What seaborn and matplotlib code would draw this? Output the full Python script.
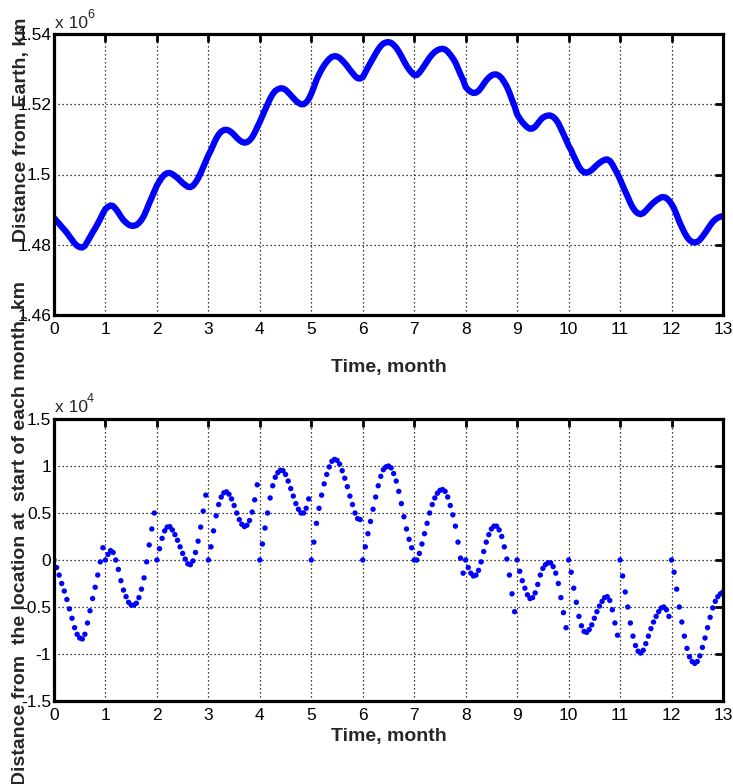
import matplotlib
matplotlib.use('Agg')
import matplotlib.pyplot as plt
from matplotlib import font_manager
import seaborn as sns
import numpy as np
import pandas as pd

# distance from Earth at the start of each month, thousand km
month_start = [1487.6, 1490.2, 1496.9, 1505.5, 1515.0, 1523.0, 1527.7,
               1528.3, 1524.9, 1517.1, 1508.2, 1498.6, 1491.6]
step = 0.05  # sampling, month

# offset from the location at start of month n, x 10^4 km (read every 0.05 month)
m00 = [0.00, -0.08, -0.16, -0.25, -0.33, -0.42, -0.52, -0.62, -0.72, -0.79,
       -0.83, -0.84, -0.79, -0.67, -0.54, -0.41, -0.29, -0.16, -0.02, 0.13]
m01 = [0.00, 0.06, 0.10, 0.08, 0.00, -0.10, -0.22, -0.32, -0.39, -0.45,
       -0.48, -0.48, -0.46, -0.40, -0.31, -0.19, -0.02, 0.16, 0.33, 0.50]
m02 = [0.00, 0.12, 0.23, 0.31, 0.35, 0.355, 0.32, 0.27, 0.21, 0.14,
       0.07, 0.01, -0.04, -0.05, -0.01, 0.08, 0.20, 0.35, 0.52, 0.69]
m03 = [0.00, 0.14, 0.31, 0.47, 0.59, 0.67, 0.715, 0.725, 0.70, 0.65,
       0.58, 0.50, 0.43, 0.38, 0.355, 0.37, 0.42, 0.51, 0.64, 0.80]
m04 = [0.00, 0.17, 0.34, 0.50, 0.66, 0.79, 0.88, 0.93, 0.955, 0.95,
       0.91, 0.84, 0.76, 0.68, 0.60, 0.54, 0.50, 0.50, 0.55, 0.65]
m05 = [0.00, 0.19, 0.39, 0.55, 0.69, 0.81, 0.91, 0.99, 1.05, 1.07,
       1.06, 1.02, 0.95, 0.87, 0.78, 0.68, 0.59, 0.50, 0.44, 0.43]
m06 = [0.00, 0.14, 0.28, 0.41, 0.54, 0.67, 0.79, 0.89, 0.96, 0.99,
       1.00, 0.98, 0.92, 0.84, 0.73, 0.60, 0.46, 0.33, 0.22, 0.13]
m07 = [0.00, 0.00, 0.07, 0.17, 0.28, 0.39, 0.50, 0.59, 0.66, 0.71,
       0.74, 0.75, 0.73, 0.67, 0.58, 0.48, 0.36, 0.19, 0.02, -0.14]
m08 = [0.00, -0.08, -0.14, -0.17, -0.16, -0.11, -0.02, 0.09, 0.19, 0.27,
       0.33, 0.36, 0.36, 0.32, 0.25, 0.14, 0.01, -0.16, -0.36, -0.55]
m09 = [0.00, -0.12, -0.22, -0.30, -0.37, -0.41, -0.40, -0.35, -0.26, -0.16,
       -0.09, -0.05, -0.03, -0.03, -0.07, -0.14, -0.25, -0.40, -0.56, -0.72]
m10 = [0.00, -0.13, -0.30, -0.45, -0.60, -0.70, -0.76, -0.77, -0.74, -0.69,
       -0.62, -0.55, -0.49, -0.44, -0.40, -0.39, -0.43, -0.53, -0.67, -0.80]
m11 = [0.00, -0.17, -0.34, -0.50, -0.67, -0.81, -0.91, -0.97, -0.99, -0.96,
       -0.89, -0.81, -0.73, -0.66, -0.60, -0.55, -0.51, -0.50, -0.53, -0.60]
m12 = [0.00, -0.13, -0.31, -0.50, -0.66, -0.81, -0.94, -1.03, -1.08, -1.10,
       -1.08, -1.02, -0.93, -0.83, -0.72, -0.61, -0.51, -0.44, -0.39, -0.36, -0.34]
offsets = [m00, m01, m02, m03, m04, m05, m06, m07, m08, m09, m10, m11, m12]

month_ticks = list(range(14))
top_ticks = [1.46, 1.48, 1.50, 1.52, 1.54]
top_labels = ['1.46', '1.48', '1.5', '1.52', '1.54']
bot_ticks = [-1.5, -1, -0.5, 0, 0.5, 1, 1.5]
bot_labels = ['-1.5', '-1', '-0.5', '0', '0.5', '1', '1.5']

# build long table: time, offset (x1e4 km) and distance (x1e6 km)
rows = []
for n, vals in enumerate(offsets):
    for k, v in enumerate(vals):
        rows.append((n + k * step, n, v, (month_start[n] * 1e3 + v * 1e4) / 1e6))
df = pd.DataFrame(rows, columns=['time', 'month', 'offset', 'distance'])

sns.set_theme(style='white')
names = {f.name for f in font_manager.fontManager.ttflist}
narrow = 'Liberation Sans Narrow' if 'Liberation Sans Narrow' in names else 'Liberation Sans'
tick_size = 13.5 if narrow == 'Liberation Sans Narrow' else 12.5
plt.rcParams['font.family'] = [narrow, 'DejaVu Sans']

W, H = 733, 784
fig = plt.figure(figsize=(W / 100, H / 100), dpi=100)
ax1 = fig.add_axes([54 / W, 1 - 315 / H, 669 / W, 281 / H])
ax2 = fig.add_axes([54 / W, 1 - 701 / H, 669 / W, 282 / H])

sns.lineplot(data=df, x='time', y='distance', color='#0000ff', linewidth=4.5,
             estimator=None, sort=False, ax=ax1)
sns.scatterplot(data=df, x='time', y='offset', color='#0000ff', s=15,
                marker='o', edgecolor='none', linewidth=0, ax=ax2)


def matlab_look(ax):
    ax.set_xlim(0, 13)
    ax.set_xticks(month_ticks)
    ax.set_xticklabels([str(m) for m in month_ticks])
    ax.grid(True, color='black', linestyle=(0, (1, 2.2)), linewidth=0.9)
    for s in ax.spines.values():
        s.set_linewidth(2.3)
        s.set_color('black')
    ax.tick_params(direction='in', length=6, width=2, top=True, right=True,
                   labelsize=tick_size, colors='black')
    ax.tick_params(axis='x', pad=5)
    ax.tick_params(axis='y', pad=2)


matlab_look(ax1)
ax1.set_ylim(1.46, 1.54)
ax1.set_yticks(top_ticks)
ax1.set_yticklabels(top_labels)

matlab_look(ax2)
ax2.set_ylim(-1.5, 1.5)
ax2.set_yticks(bot_ticks)
ax2.set_yticklabels(bot_labels)

ax1.set_xlabel('Time, month', fontsize=14, fontweight='bold', family=[narrow, 'DejaVu Sans'])
ax1.xaxis.set_label_coords(0.5, -0.155)
ax2.set_xlabel('Time, month', fontsize=14, fontweight='bold', family=[narrow, 'DejaVu Sans'])
ax2.xaxis.set_label_coords(0.5, -0.095)

ax1.set_ylabel('Distance from Earth, km', fontsize=14, fontweight='bold',
               family=['Liberation Sans', 'DejaVu Sans'])
ax1.yaxis.set_label_coords(-0.036, 0.66)
ax2.set_ylabel('Distance from  the location at  start of each month, km', fontsize=14,
               fontweight='bold', family=['Liberation Sans', 'DejaVu Sans'])
ax2.yaxis.set_label_coords(-0.038, 0.595)

# scale factors above the axes
fig.text(55 / W, 1 - 28 / H, 'x 10', fontsize=tick_size, va='baseline')
fig.text(87 / W, 1 - 18 / H, '6', fontsize=9, va='baseline')
fig.text(55 / W, 1 - 412 / H, 'x 10', fontsize=tick_size, va='baseline')
fig.text(87 / W, 1 - 402 / H, '4', fontsize=9, va='baseline')

fig.savefig('out.png', dpi=100, facecolor='white')
